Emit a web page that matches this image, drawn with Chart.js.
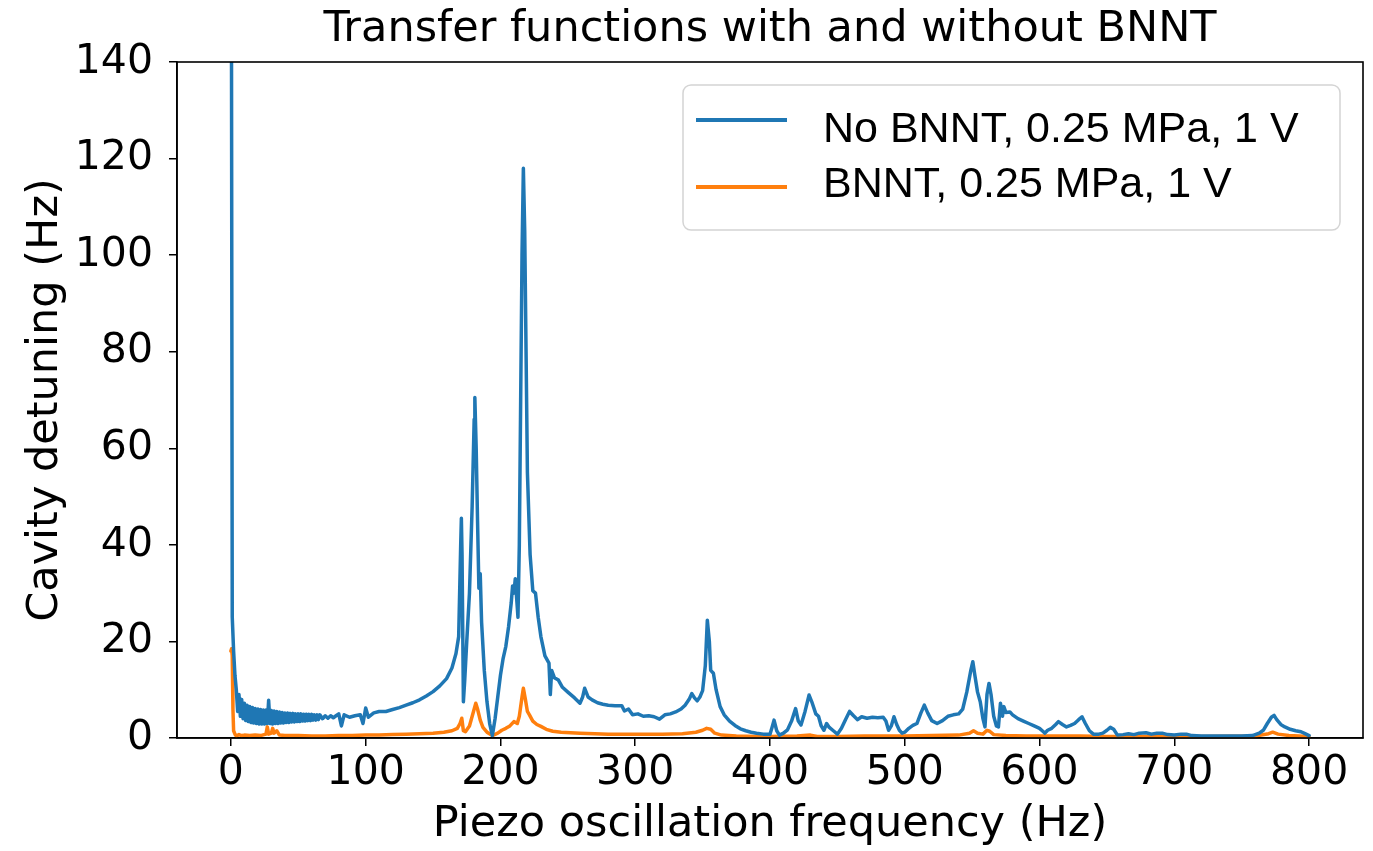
<!DOCTYPE html>
<html>
<head>
<meta charset="utf-8">
<script src="https://cdn.jsdelivr.net/npm/chart.js@4/dist/chart.umd.min.js"></script>
<style>
  body { margin: 0; background: #fff; }
  canvas { display: block; }
</style>
</head>
<body>
<canvas id="tfChart" width="1373" height="851"></canvas>
<script>
// frequency (Hz), detuning (Hz)
const noBnntFreq = [0, 0.4, 1, 2, 3, 4, 5, 6, 7, 8, 9, 10, 11, 12, 13, 14, 15, 16, 17, 18, 19, 20, 21, 22, 23, 24, 25, 26, 27, 28, 29, 30, 31, 32, 33, 34, 35, 36, 37, 38, 39, 40, 41, 42, 43, 44, 45, 46, 47, 48, 49, 50, 51, 52, 53, 54, 55, 56, 57, 58, 59, 60, 61, 62, 63, 64, 65, 66, 68, 70, 72, 74, 76, 78, 80, 82, 84, 88, 92, 96, 98, 100, 102, 106, 110, 115, 120, 125, 130, 135, 140, 145, 150, 155, 160, 164, 167, 169, 170.5, 171, 171.5, 172.5, 173.5, 175, 177, 179, 180.5, 181, 182, 183, 184, 185, 186, 188, 190, 192, 194, 196, 198, 200, 202, 204, 206, 208, 209, 210, 211, 212, 213, 214, 215, 216, 217, 218, 219, 220, 222, 224, 226, 228, 230, 233, 236, 237, 238, 240, 243, 246, 250, 255, 259, 261, 262.5, 265, 268, 272, 276, 280, 285, 290, 292, 295, 298, 302, 306, 310, 314, 318, 322, 326, 330, 334, 337, 340, 342, 344, 346, 348, 350, 352, 353.5, 355, 356, 358, 360, 363, 366, 370, 374, 378, 382, 386, 390, 395, 400, 401.5, 403, 405, 407, 410, 413, 416, 419, 421, 423, 426, 429, 431, 434, 436, 438, 440, 442, 444, 447, 450, 453, 456, 459, 462, 465, 468, 472, 476, 480, 484, 486, 488, 490, 492, 494, 496, 498, 500, 503, 506, 509, 512, 514.5, 517, 520, 524, 528, 532, 536, 540, 543, 546, 549, 550.5, 552, 554, 556, 558, 559.5, 561, 562.5, 564, 566, 568, 569.5, 571, 572.5, 573.5, 575, 578, 580, 584, 588, 592, 596, 600, 602, 604, 606, 609, 612, 614, 617, 620, 623, 626, 629, 631.5, 634, 637, 640, 644, 647, 650, 652.5, 655, 657.8, 662, 666, 670, 674, 679, 683, 687, 691, 695, 700, 705, 709, 713, 720, 730, 740, 750, 758, 763, 766, 769, 772, 774, 776, 779, 782, 786, 790, 794, 797, 800];
const noBnntVals = [200, 150, 25, 18, 13, 10, 5.5, 9, 4.5, 8, 4, 7.2, 3.6, 6.8, 3.4, 6.5, 3.2, 6.3, 3.1, 6.1, 3, 6, 2.9, 5.9, 2.9, 5.8, 2.9, 5.8, 3, 7.8, 3, 5.7, 2.9, 5.6, 3, 5.5, 3, 5.4, 3.1, 5.3, 3.1, 5.2, 3.2, 5.2, 3.2, 5.1, 3.3, 5.1, 3.3, 5, 3.4, 5, 3.4, 5, 3.5, 4.9, 3.5, 4.9, 3.6, 4.9, 3.6, 4.9, 3.7, 4.8, 3.7, 4.8, 3.8, 4.8, 4, 4.6, 4.1, 4.6, 4.2, 4.6, 5, 2.5, 4.8, 4.3, 4.6, 4.8, 3, 6.2, 4.3, 5.2, 5.5, 5.5, 5.9, 6.3, 6.8, 7.3, 7.9, 8.7, 9.6, 10.8, 12.3, 14.5, 17.5, 21, 40, 45.5, 38, 7.5, 12, 20, 30, 48, 66, 70.5, 60, 45, 31, 34, 24, 14, 7.5, 3, 0.5, 4, 8.5, 13, 16.5, 19, 23, 28, 31.5, 30, 33, 29, 25, 40, 70, 100, 118, 105, 80, 55, 38, 30.5, 30, 25, 21, 17, 15.5, 9, 14, 12.5, 12, 10.5, 9.5, 8.3, 7.2, 8.5, 10.3, 8.5, 7.9, 7.3, 7, 6.8, 6.7, 6.7, 5.6, 6, 4.8, 5, 4.5, 4.6, 4.4, 3.9, 4.8, 5, 5.4, 6, 6.8, 8, 9.2, 8.3, 7.7, 8.5, 9.8, 15, 24.4, 20, 14, 13.4, 10, 6.5, 4.8, 3.5, 2.6, 1.9, 1.5, 1.2, 1, 0.8, 0.8, 2.2, 3.7, 1.5, 0.6, 1, 1.7, 3.5, 6.1, 3.5, 2.7, 5.5, 8.9, 7.5, 5, 4.5, 2.5, 1.6, 3, 2.2, 1.5, 0.8, 2, 3.8, 5.5, 4.6, 3.8, 4.4, 4.1, 4.3, 4.2, 4.3, 3.5, 1.6, 2.5, 4.4, 2.8, 1.6, 1, 1.2, 2, 2.6, 3, 5.2, 6.8, 5.2, 3.6, 3, 3.6, 4.5, 4.8, 5, 6, 9.5, 14, 15.8, 13, 9.5, 7.5, 4, 2.3, 9, 11.3, 9, 4.5, 2.5, 2.3, 7.2, 4.5, 6.5, 5.3, 5.4, 4.8, 4, 3.5, 3, 2.5, 2, 1.5, 1, 1.6, 2, 2.8, 3.4, 2.8, 2.3, 2.6, 3, 3.8, 4.4, 3, 1.5, 0.8, 0.8, 1, 1.6, 2.2, 1.8, 0.6, 0.7, 0.9, 0.7, 1, 1.1, 0.8, 1, 1, 0.7, 0.6, 0.8, 0.8, 0.5, 0.4, 0.4, 0.4, 0.4, 0.5, 1, 1.6, 3, 4.3, 4.7, 3.8, 2.8, 2.3, 1.8, 1.5, 1.3, 0.9, 0.5];

const bnntFreq = [0, 0.5, 1, 1.5, 2, 3, 4, 6, 8, 10, 14, 18, 22, 26, 27, 28, 30, 31, 32, 34, 36, 40, 50, 60, 70, 80, 90, 100, 110, 120, 130, 140, 150, 158, 164, 168, 170, 171.3, 172.5, 174, 177, 180, 181.7, 183, 185, 187, 190, 194, 198, 201, 204, 207, 210, 212.5, 214, 216, 217, 218.5, 220, 221.5, 224, 227, 230, 234, 238.8, 245, 252, 259, 270, 280, 300, 320, 335, 345, 350, 353, 356, 359, 364, 375, 390, 400, 420, 430, 435, 450, 470, 500, 520, 540, 548, 551, 554, 558, 561, 563, 566, 575, 590, 610, 630, 650, 680, 720, 760, 770, 773, 777, 785, 800];
const bnntVals = [18, 18.5, 17, 6, 1.5, 0.8, 0.4, 0.7, 0.5, 0.6, 0.5, 0.6, 0.5, 0.8, 2.3, 0.8, 1, 2, 1, 1.5, 0.6, 0.5, 0.5, 0.4, 0.4, 0.5, 0.5, 0.6, 0.6, 0.7, 0.8, 0.9, 1, 1.2, 1.5, 2, 3, 4.1, 1.5, 1.3, 2.5, 5.5, 7.2, 6, 3.7, 2.2, 1.2, 0.5, 1, 1.6, 2, 2.5, 3.4, 3, 4.5, 8.5, 10.3, 8, 5.5, 4.8, 3.5, 2.8, 2.4, 1.8, 1.4, 1.2, 1.1, 1, 0.9, 0.8, 0.8, 0.8, 0.9, 1.2, 1.6, 2, 1.8, 1, 0.6, 0.4, 0.3, 0.3, 0.4, 0.6, 0.3, 0.3, 0.4, 0.4, 0.5, 0.6, 1, 1.5, 1, 0.8, 1.6, 1.4, 0.7, 0.5, 0.4, 0.4, 0.4, 0.3, 0.3, 0.3, 0.4, 0.9, 1.2, 0.8, 0.5, 0.3];

const seriesLabels = ['No BNNT, 0.25 MPa, 1 V', 'BNNT, 0.25 MPa, 1 V'];
const xTicks = [0, 100, 200, 300, 400, 500, 600, 700, 800];
const yTicks = [0, 20, 40, 60, 80, 100, 120, 140];
const chartTitle = 'Transfer functions with and without BNNT';

const toPoints = (xs, ys) => xs.map((x, i) => ({ x: x, y: ys[i] }));

const tickFont = { family: 'DejaVu Sans', size: 41 };
const labelFont = { family: 'DejaVu Sans', size: 43 };

// title centred over the plot area, like matplotlib does it
const plotTitle = {
  id: 'plotTitle',
  afterDraw(chart) {
    const { ctx, chartArea } = chart;
    ctx.save();
    ctx.fillStyle = '#000';
    ctx.font = '43px "DejaVu Sans"';
    ctx.textAlign = 'center';
    ctx.textBaseline = 'middle';
    ctx.fillText(chartTitle, (chartArea.left + chartArea.right) / 2, chartArea.top - 32);
    ctx.restore();
  }
};

// matplotlib-style boxed legend in the top right corner
const boxLegend = {
  id: 'boxLegend',
  afterDraw(chart) {
    const { ctx, chartArea } = chart;
    const w = 657, h = 145;
    const x0 = chartArea.right - 23 - w, y0 = chartArea.top + 23;
    ctx.save();
    ctx.beginPath();
    ctx.roundRect(x0, y0, w, h, 8);
    ctx.fillStyle = 'rgba(255,255,255,0.8)';
    ctx.fill();
    ctx.strokeStyle = '#d4d4d4';
    ctx.lineWidth = 1.5;
    ctx.stroke();
    const rows = [[35, 45], [102, 100]];
    chart.data.datasets.forEach((ds, i) => {
      ctx.beginPath();
      ctx.moveTo(x0 + 13, y0 + rows[i][0]);
      ctx.lineTo(x0 + 104, y0 + rows[i][0]);
      ctx.strokeStyle = ds.borderColor;
      ctx.lineWidth = 4;
      ctx.stroke();
      ctx.fillStyle = '#000';
      ctx.font = '43px "Liberation Sans", Arial, sans-serif';
      ctx.textBaseline = 'middle';
      ctx.textAlign = 'left';
      ctx.fillText(ds.label, x0 + 140, y0 + rows[i][1]);
    });
    ctx.restore();
  }
};

const frame = {
  id: 'frame',
  afterDatasetsDraw(chart) {
    const { ctx, chartArea } = chart;
    ctx.save();
    ctx.strokeStyle = '#000';
    ctx.lineWidth = 1.6;
    ctx.strokeRect(chartArea.left, chartArea.top, chartArea.right - chartArea.left, chartArea.bottom - chartArea.top);
    ctx.restore();
  }
};

Chart.defaults.color = '#000';
const ctx = document.getElementById('tfChart').getContext('2d');
new Chart(ctx, {
  type: 'line',
  data: {
    datasets: [{
      label: seriesLabels[0],
      data: toPoints(noBnntFreq, noBnntVals),
      borderColor: '#1f77b4',
      borderWidth: 3.5,
      borderJoinStyle: 'round',
      borderCapStyle: 'round',
      pointRadius: 0,
      tension: 0
    }, {
      label: seriesLabels[1],
      data: toPoints(bnntFreq, bnntVals),
      borderColor: '#ff7f0e',
      borderWidth: 3.5,
      borderJoinStyle: 'round',
      borderCapStyle: 'round',
      pointRadius: 0,
      tension: 0
    }]
  },
  options: {
    responsive: false,
    animation: false,
    layout: {
      padding: { left: 0, right: 10, top: 62, bottom: 0 }
    },
    plugins: {
      legend: { display: false },
      tooltip: { enabled: false },
      title: { display: false }
    },
    scales: {
      x: {
        type: 'linear',
        min: -40,
        max: 840,
        afterBuildTicks: (scale) => { scale.ticks = xTicks.map(v => ({ value: v })); },
        afterFit: (scale) => { scale.height = 113; },
        ticks: { font: tickFont, color: '#000', padding: 3, maxRotation: 0 },
        grid: { drawOnChartArea: false, tickLength: 8, color: '#000', lineWidth: 1.5 },
        border: { color: '#000', width: 1.6 },
        title: {
          display: true,
          text: 'Piezo oscillation frequency (Hz)',
          font: labelFont,
          color: '#000',
          padding: { top: 0, bottom: 0 }
        }
      },
      y: {
        min: 0,
        max: 140,
        afterBuildTicks: (scale) => { scale.ticks = yTicks.map(v => ({ value: v })); },
        afterFit: (scale) => { scale.width = 177; },
        ticks: { font: tickFont, color: '#000', padding: 16 },
        grid: { drawOnChartArea: false, tickLength: 8, color: '#000', lineWidth: 1.5 },
        border: { color: '#000', width: 1.6 },
        title: {
          display: true,
          text: 'Cavity detuning (Hz)',
          font: labelFont,
          color: '#000',
          padding: { top: 20, bottom: 0 }
        }
      }
    }
  },
  plugins: [frame, plotTitle, boxLegend]
});
</script>
</body>
</html>
